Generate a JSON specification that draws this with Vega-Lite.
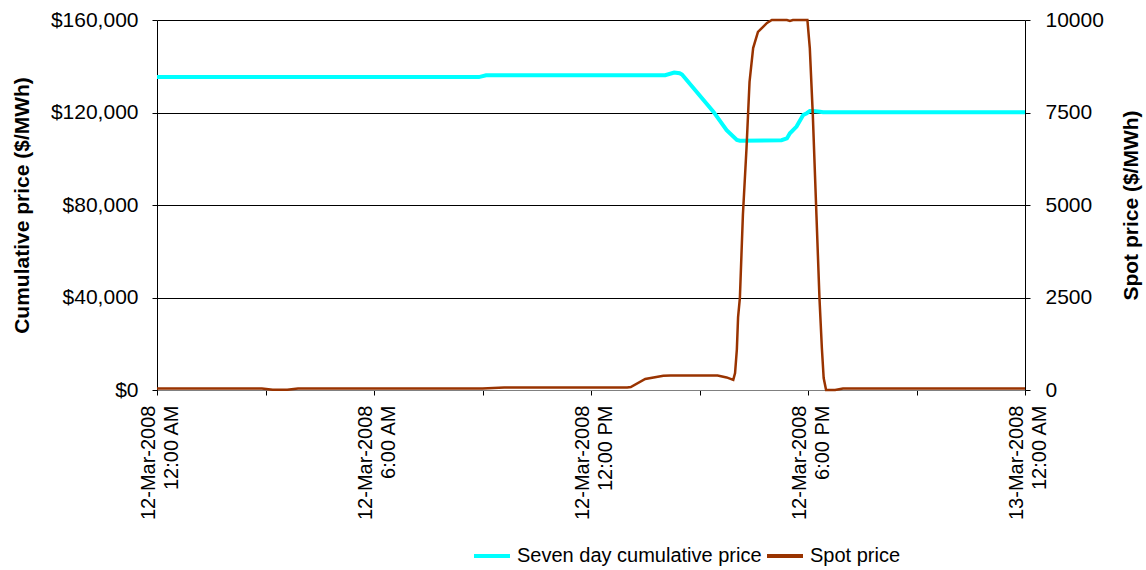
{
  "$schema": "https://vega.github.io/schema/vega-lite/v6.json",
  "width": 868,
  "height": 370,
  "autosize": {"type": "none"},
  "padding": {"left": 157, "top": 20, "right": 121, "bottom": 180},
  "background": "white",
  "config": {
    "font": "Liberation Sans",
    "view": {"stroke": null},
    "axis": {
      "labelFont": "Liberation Sans",
      "titleFont": "Liberation Sans",
      "labelFontSize": 21,
      "titleFontSize": 21,
      "titleFontWeight": "bold",
      "labelColor": "black",
      "titleColor": "black",
      "tickColor": "black",
      "domainColor": "black",
      "tickSize": 5
    },
    "legend": {
      "labelFont": "Liberation Sans",
      "labelFontSize": 20,
      "labelColor": "black",
      "labelLimit": 400
    }
  },
  "datasets": {
    "cum": [
      {"t": "2008-03-12 00:00", "v": 135300, "series": "Seven day cumulative price"},
      {"t": "2008-03-12 08:54", "v": 135300, "series": "Seven day cumulative price"},
      {"t": "2008-03-12 09:06", "v": 136100, "series": "Seven day cumulative price"},
      {"t": "2008-03-12 14:03", "v": 136100, "series": "Seven day cumulative price"},
      {"t": "2008-03-12 14:18", "v": 137300, "series": "Seven day cumulative price"},
      {"t": "2008-03-12 14:27", "v": 137000, "series": "Seven day cumulative price"},
      {"t": "2008-03-12 14:31", "v": 136400, "series": "Seven day cumulative price"},
      {"t": "2008-03-12 15:23", "v": 120350, "series": "Seven day cumulative price"},
      {"t": "2008-03-12 15:45", "v": 112400, "series": "Seven day cumulative price"},
      {"t": "2008-03-12 16:02", "v": 108100, "series": "Seven day cumulative price"},
      {"t": "2008-03-12 16:07", "v": 107800, "series": "Seven day cumulative price"},
      {"t": "2008-03-12 17:16", "v": 108000, "series": "Seven day cumulative price"},
      {"t": "2008-03-12 17:25", "v": 108800, "series": "Seven day cumulative price"},
      {"t": "2008-03-12 17:30", "v": 111000, "series": "Seven day cumulative price"},
      {"t": "2008-03-12 17:41", "v": 113900, "series": "Seven day cumulative price"},
      {"t": "2008-03-12 17:52", "v": 118900, "series": "Seven day cumulative price"},
      {"t": "2008-03-12 17:58", "v": 119700, "series": "Seven day cumulative price"},
      {"t": "2008-03-12 18:03", "v": 120650, "series": "Seven day cumulative price"},
      {"t": "2008-03-12 18:08", "v": 120650, "series": "Seven day cumulative price"},
      {"t": "2008-03-12 18:20", "v": 120350, "series": "Seven day cumulative price"},
      {"t": "2008-03-12 18:25", "v": 120100, "series": "Seven day cumulative price"},
      {"t": "2008-03-13 00:00", "v": 120100, "series": "Seven day cumulative price"}
    ],
    "spot": [
      {"t": "2008-03-12 00:00", "v": 40, "series": "Spot price"},
      {"t": "2008-03-12 02:54", "v": 40, "series": "Spot price"},
      {"t": "2008-03-12 03:12", "v": 10, "series": "Spot price"},
      {"t": "2008-03-12 03:36", "v": 5, "series": "Spot price"},
      {"t": "2008-03-12 03:54", "v": 40, "series": "Spot price"},
      {"t": "2008-03-12 09:00", "v": 40, "series": "Spot price"},
      {"t": "2008-03-12 09:36", "v": 70, "series": "Spot price"},
      {"t": "2008-03-12 13:00", "v": 70, "series": "Spot price"},
      {"t": "2008-03-12 13:06", "v": 80, "series": "Spot price"},
      {"t": "2008-03-12 13:30", "v": 300, "series": "Spot price"},
      {"t": "2008-03-12 14:00", "v": 385, "series": "Spot price"},
      {"t": "2008-03-12 14:12", "v": 390, "series": "Spot price"},
      {"t": "2008-03-12 15:30", "v": 390, "series": "Spot price"},
      {"t": "2008-03-12 15:45", "v": 340, "series": "Spot price"},
      {"t": "2008-03-12 15:56", "v": 275, "series": "Spot price"},
      {"t": "2008-03-12 15:59", "v": 460, "series": "Spot price"},
      {"t": "2008-03-12 16:02", "v": 1100, "series": "Spot price"},
      {"t": "2008-03-12 16:04", "v": 1970, "series": "Spot price"},
      {"t": "2008-03-12 16:07", "v": 2490, "series": "Spot price"},
      {"t": "2008-03-12 16:12", "v": 4730, "series": "Spot price"},
      {"t": "2008-03-12 16:18", "v": 6540, "series": "Spot price"},
      {"t": "2008-03-12 16:23", "v": 8325, "series": "Spot price"},
      {"t": "2008-03-12 16:29", "v": 9240, "series": "Spot price"},
      {"t": "2008-03-12 16:37", "v": 9680, "series": "Spot price"},
      {"t": "2008-03-12 16:52", "v": 9920, "series": "Spot price"},
      {"t": "2008-03-12 17:00", "v": 10000, "series": "Spot price"},
      {"t": "2008-03-12 17:25", "v": 10000, "series": "Spot price"},
      {"t": "2008-03-12 17:30", "v": 9975, "series": "Spot price"},
      {"t": "2008-03-12 17:35", "v": 10000, "series": "Spot price"},
      {"t": "2008-03-12 17:59", "v": 10000, "series": "Spot price"},
      {"t": "2008-03-12 18:03", "v": 9240, "series": "Spot price"},
      {"t": "2008-03-12 18:08", "v": 7430, "series": "Spot price"},
      {"t": "2008-03-12 18:14", "v": 4730, "series": "Spot price"},
      {"t": "2008-03-12 18:19", "v": 2490, "series": "Spot price"},
      {"t": "2008-03-12 18:23", "v": 1135, "series": "Spot price"},
      {"t": "2008-03-12 18:26", "v": 325, "series": "Spot price"},
      {"t": "2008-03-12 18:30", "v": 0, "series": "Spot price"},
      {"t": "2008-03-12 18:45", "v": 0, "series": "Spot price"},
      {"t": "2008-03-12 18:58", "v": 40, "series": "Spot price"},
      {"t": "2008-03-13 00:00", "v": 40, "series": "Spot price"}
    ]
  },
  "layer": [
    {
      "data": {"name": "cum"},
      "mark": {"type": "line", "strokeWidth": 4},
      "encoding": {
        "x": {
          "field": "t",
          "type": "temporal",
          "scale": {"nice": false},
          "axis": {
            "title": null,
            "grid": false,
            "tickCount": 8,
            "labelExpr": "hours(datum.value) % 6 == 0 ? [timeFormat(datum.value, '%d-%b-%Y'), timeFormat(datum.value, '%-I:%M %p')] : ''",
            "labelFontSize": 20,
            "labelAngle": 270,
            "labelAlign": "right",
            "labelBaseline": "middle",
            "labelLineHeight": 23,
            "labelOffset": -9,
            "labelOverlap": false,
            "labelPadding": 10,
            "domainColor": "#808080"
          }
        },
        "y": {
          "field": "v",
          "type": "quantitative",
          "scale": {"domain": [0, 160000], "nice": false},
          "axis": {
            "values": [0, 40000, 80000, 120000, 160000],
            "format": "$,d",
            "title": "Cumulative price ($/MWh)",
            "grid": true,
            "gridColor": "black",
            "gridOpacity": 1,
            "labelPadding": 14,
            "titlePadding": 18
          }
        },
        "color": {
          "field": "series",
          "type": "nominal",
          "scale": {
            "domain": ["Seven day cumulative price", "Spot price"],
            "range": ["#00FFFF", "#993300"]
          },
          "legend": {
            "orient": "none",
            "legendX": 315,
            "legendY": 516,
            "direction": "horizontal",
            "title": null,
            "symbolType": "stroke",
            "symbolSize": 1296,
            "symbolStrokeWidth": 4,
            "labelOffset": 5,
            "columnPadding": -3
          }
        }
      }
    },
    {
      "data": {"name": "spot"},
      "mark": {"type": "line", "strokeWidth": 2.5},
      "encoding": {
        "x": {"field": "t", "type": "temporal"},
        "y": {
          "field": "v",
          "type": "quantitative",
          "scale": {"domain": [0, 10000], "nice": false},
          "axis": {
            "orient": "right",
            "values": [0, 2500, 5000, 7500, 10000],
            "format": "d",
            "title": "Spot price ($/MWh)",
            "titleAngle": 270,
            "grid": false,
            "labelPadding": 15,
            "titlePadding": 38
          }
        },
        "color": {"field": "series", "type": "nominal"}
      }
    }
  ],
  "resolve": {"scale": {"y": "independent"}}
}
